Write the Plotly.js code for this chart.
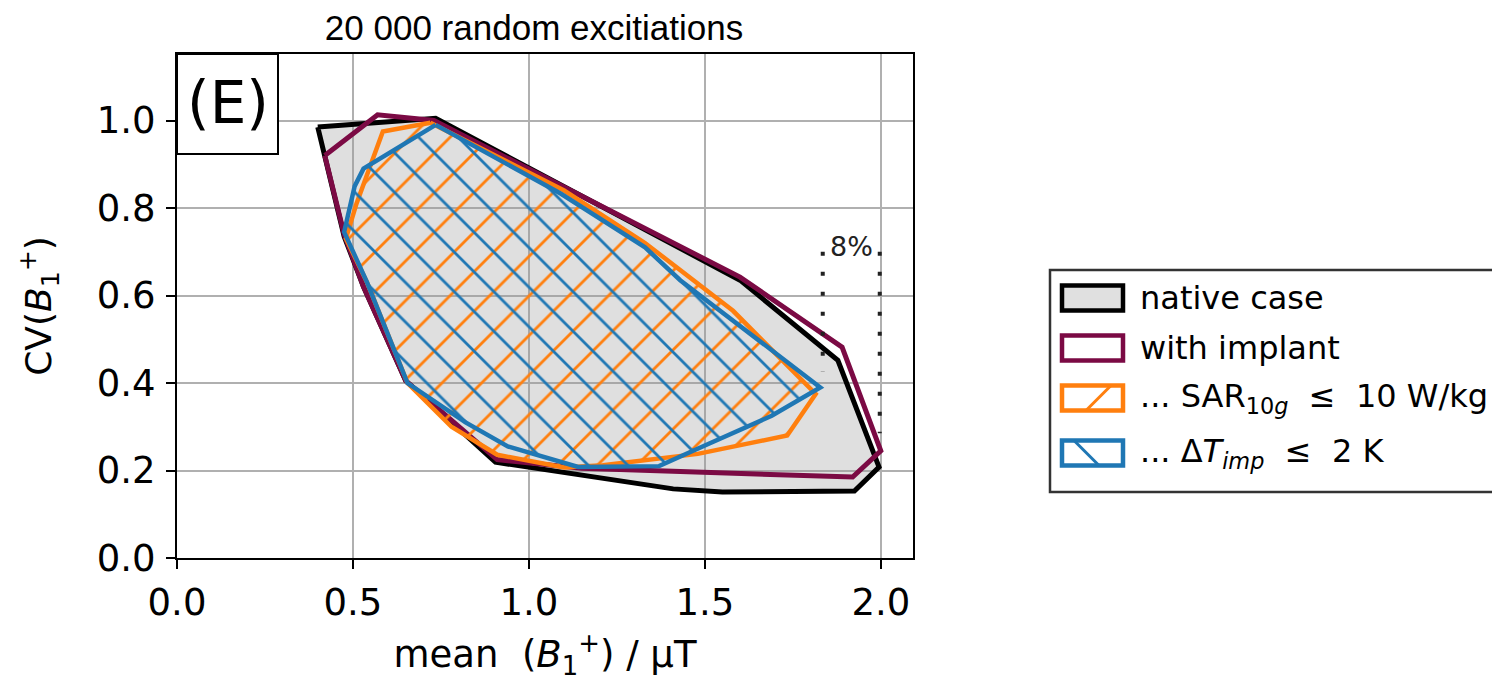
<!DOCTYPE html>
<html>
<head>
<meta charset="utf-8">
<script src="https://cdn.plot.ly/plotly-3.0.1.min.js"></script>
<style>html,body{margin:0;padding:0;background:#fff;}#chart{width:1492px;height:682px;}</style>
</head>
<body>
<div id="chart"></div>
<script>
// ---- data ----
const nativeX  = [0.40, 0.735, 1.60, 1.878, 1.995, 1.925, 1.55, 1.41, 0.905, 0.65, 0.53, 0.475, 0.40];
const nativeY  = [0.985, 1.005, 0.635, 0.452, 0.208, 0.153, 0.151, 0.158, 0.219, 0.405, 0.62, 0.735, 0.985];
const implantX = [0.42, 0.57, 0.73, 1.60, 1.89, 2.00, 1.92, 1.40, 1.15, 0.91, 0.65, 0.53, 0.475, 0.42];
const implantY = [0.92, 1.013, 1.00, 0.642, 0.482, 0.245, 0.185, 0.20, 0.205, 0.225, 0.405, 0.62, 0.74, 0.92];
const sarX     = [0.72, 1.10, 1.33, 1.58, 1.815, 1.734, 1.48, 1.21, 1.10, 0.91, 0.78, 0.655, 0.54, 0.48, 0.51, 0.585, 0.72];
const sarY     = [0.995, 0.84, 0.72, 0.565, 0.375, 0.28, 0.238, 0.212, 0.207, 0.236, 0.30, 0.40, 0.63, 0.73, 0.81, 0.975, 0.995];
const dtX      = [0.735, 1.09, 1.33, 1.43, 1.828, 1.69, 1.50, 1.37, 1.14, 0.94, 0.82, 0.655, 0.54, 0.475, 0.505, 0.53, 0.735];
const dtY      = [0.99, 0.833, 0.71, 0.635, 0.39, 0.325, 0.257, 0.21, 0.208, 0.255, 0.31, 0.40, 0.63, 0.745, 0.85, 0.89, 0.99];

// 8 % gap marker
const gapX      = [1.835, 1.997];
const gapTop    = 0.70;
const gapBottom = [0.425, 0.285];
const gapLabel  = "8%";

const xTicks = [0, 0.5, 1.0, 1.5, 2.0];
const xTickText = ["0.0", "0.5", "1.0", "1.5", "2.0"];
const yTicks = [0, 0.2, 0.4, 0.6, 0.8, 1.0];
const yTickText = ["0.0", "0.2", "0.4", "0.6", "0.8", "1.0"];

const legendLabels = [
  "native case",
  "with implant",
  "... SAR<sub>10<i>g</i></sub>  ≤  10 W/kg",
  "... Δ<i>T</i><sub><i>imp</i></sub>  ≤  2 K"
];
const chartTitle = "20 000 random excitiations";
const panelLabel = "(E)";

// ---- styles ----
const BLACK = "#000000", PURPLE = "#7b0a44", ORANGE = "#ff7f0e", BLUE = "#1f77b4";
const FONT = "DejaVu Sans, Verdana, sans-serif";

// page-pixel -> paper helpers (plot area: x 177..913, y 54..558)
const L = 177, T = 54, W = 736, H = 504;
const px = v => (v - L) / W;
const py = v => (T + H - v) / H;

const traces = [
  {x: nativeX, y: nativeY, mode: "lines", fill: "toself",
   fillcolor: "rgba(150,150,150,0.3)", line: {color: BLACK, width: 5}, showlegend: false, hoverinfo: "skip"},
  {x: implantX, y: implantY, mode: "lines", line: {color: PURPLE, width: 5}, showlegend: false, hoverinfo: "skip"},
  {x: sarX, y: sarY, mode: "lines", fill: "toself", fillcolor: "rgba(0,0,0,0)",
   fillpattern: {shape: "/", fgcolor: ORANGE, bgcolor: "rgba(0,0,0,0)", size: 28, solidity: 0.1},
   line: {color: ORANGE, width: 4.5}, showlegend: false, hoverinfo: "skip"},
  {x: dtX, y: dtY, mode: "lines", fill: "toself", fillcolor: "rgba(0,0,0,0)",
   fillpattern: {shape: "\\", fgcolor: BLUE, bgcolor: "rgba(0,0,0,0)", size: 28, solidity: 0.1},
   line: {color: BLUE, width: 4.5}, showlegend: false, hoverinfo: "skip"}
];
gapX.forEach((gx, i) => {
  traces.push({x: [gx, gx], y: [gapTop, gapBottom[i]], mode: "lines",
    line: {color: "#222", width: 4, dash: "4px,16px"}, showlegend: false, hoverinfo: "skip"});
});

// legend (drawn by hand, matplotlib-like)
const rowY = [298, 348, 398, 453];
const swL = 1062, swR = 1123, swH = 25;
const shapes = [
  // panel label box
  {type: "rect", xref: "paper", yref: "paper", x0: px(177), x1: px(278), y0: py(154), y1: py(54),
   line: {color: BLACK, width: 2}, fillcolor: "#ffffff", layer: "above"},
  // legend frame
  {type: "rect", xref: "paper", yref: "paper", x0: px(1050), x1: px(1530), y0: py(492), y1: py(270),
   line: {color: "#333333", width: 2.5}, fillcolor: "#ffffff", layer: "below"}
];
const swStyles = [
  {line: BLACK, fill: "#e0e0e0"},
  {line: PURPLE, fill: "#ffffff"},
  {line: ORANGE, fill: "#ffffff"},
  {line: BLUE, fill: "#ffffff"}
];
rowY.forEach((cy, i) => {
  shapes.push({type: "rect", xref: "paper", yref: "paper",
    x0: px(swL), x1: px(swR), y0: py(cy + swH / 2), y1: py(cy - swH / 2),
    line: {color: swStyles[i].line, width: 4.5}, fillcolor: swStyles[i].fill, layer: "above"});
});
shapes.push({type: "line", xref: "paper", yref: "paper", x0: px(1086), y0: py(rowY[2] + swH / 2), x1: px(1111), y1: py(rowY[2] - swH / 2),
  line: {color: ORANGE, width: 3}, layer: "above"});
shapes.push({type: "line", xref: "paper", yref: "paper", x0: px(1074), y0: py(rowY[3] - swH / 2), x1: px(1099), y1: py(rowY[3] + swH / 2),
  line: {color: BLUE, width: 3}, layer: "above"});

const annotations = [
  {text: panelLabel, xref: "paper", yref: "paper", x: px(227.5), y: py(103), xanchor: "center", yanchor: "middle",
   showarrow: false, font: {family: FONT, size: 58, color: BLACK}},
  {text: gapLabel, xref: "x", yref: "y", x: (gapX[0] + gapX[1]) / 2, y: gapTop + 0.012, xanchor: "center", yanchor: "middle",
   showarrow: false, font: {family: FONT, size: 27, color: "#222"}}
];
legendLabels.forEach((t, i) => {
  annotations.push({text: t, xref: "paper", yref: "paper", x: px(1138), y: py(rowY[i]), xanchor: "left", yanchor: "middle",
    showarrow: false, font: {family: FONT, size: 32, color: BLACK}});
});

const layout = {
  width: 1492, height: 682,
  margin: {l: L, r: 1492 - L - W, t: T, b: 682 - T - H, pad: 0},
  paper_bgcolor: "#ffffff", plot_bgcolor: "#ffffff",
  showlegend: false,
  title: {text: chartTitle, font: {family: "Liberation Sans, Arial, sans-serif", size: 35, color: BLACK},
          x: px(534), xref: "paper", xanchor: "center", y: 1 - 28 / 682, yref: "container", yanchor: "middle"},
  xaxis: {
    range: [0, 2.0915], tickvals: xTicks, ticktext: xTickText,
    ticks: "outside", ticklen: 9, tickwidth: 2, tickcolor: BLACK,
    showline: true, mirror: true, linecolor: BLACK, linewidth: 2,
    showgrid: true, gridcolor: "#b0b0b0", gridwidth: 2, zeroline: false,
    tickfont: {family: FONT, size: 37, color: BLACK}, ticklabelstandoff: 2,
    title: {text: "mean  (<i>B</i><sub>1</sub><sup>+</sup>) / µT", font: {family: FONT, size: 37, color: BLACK}, standoff: 18},
    automargin: false, fixedrange: true
  },
  yaxis: {
    range: [0, 1.152], tickvals: yTicks, ticktext: yTickText,
    ticks: "outside", ticklen: 9, tickwidth: 2, tickcolor: BLACK,
    showline: true, mirror: true, linecolor: BLACK, linewidth: 2,
    showgrid: true, gridcolor: "#b0b0b0", gridwidth: 2, zeroline: false,
    tickfont: {family: FONT, size: 37, color: BLACK}, ticklabelstandoff: 3,
    title: {text: "CV(<i>B</i><sub>1</sub><sup>+</sup>)", font: {family: FONT, size: 36, color: BLACK}, standoff: 34},
    automargin: false, fixedrange: true
  },
  shapes: shapes,
  annotations: annotations
};

Plotly.newPlot("chart", traces, layout, {displayModeBar: false, staticPlot: true});
</script>
</body>
</html>
